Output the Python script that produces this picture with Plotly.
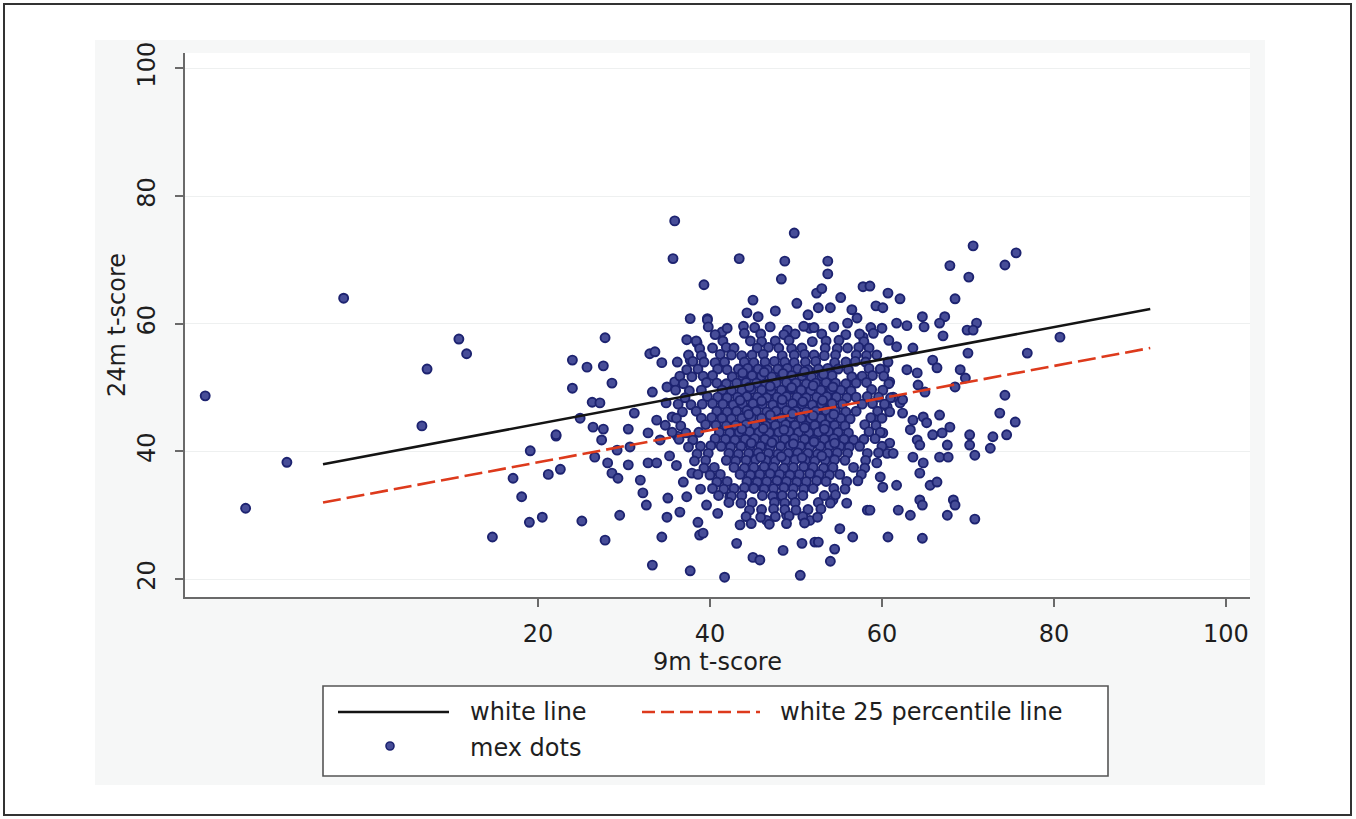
import plotly.graph_objects as go

# ---------------- data ----------------
x_ticks = [20, 40, 60, 80, 100]
y_ticks = [20, 40, 60, 80, 100]

# fitted lines
line_x = [-5.0, 91.2]
white_line_y = [38.0, 62.3]
white_p25_y = [32.0, 56.2]

# scattered points (9m t-score, 24m t-score)
outlier_points = [
    (-18.7, 48.7), (-14.0, 31.1), (-9.2, 38.3), (-2.6, 64.0), (7.1, 52.9), (6.5, 44.0),
    (10.8, 57.6), (11.7, 55.3), (14.7, 26.6), (17.1, 35.8), (18.1, 32.9), (19.0, 28.9),
    (20.5, 29.7), (19.1, 40.1), (21.2, 36.4), (22.1, 42.4),
]

left_points = [
    (35.9, 76.1), (35.7, 70.2), (39.3, 66.1), (27.8, 57.8), (24.0, 54.3), (25.7, 53.2),
    (27.6, 53.4), (28.6, 50.7), (24.0, 49.9), (26.3, 47.7), (27.2, 47.6), (24.9, 45.2),
    (22.1, 42.6), (26.4, 43.8), (27.6, 43.5), (30.5, 43.5), (31.2, 46.0), (33.3, 49.3),
    (33.0, 55.3), (33.6, 55.6), (34.4, 53.9), (35.0, 50.1), (35.9, 50.9), (37.7, 60.8),
    (39.7, 60.8), (37.3, 57.5), (38.5, 57.0), (37.7, 54.3), (27.4, 41.8), (29.2, 40.2),
    (26.6, 39.1), (30.7, 40.7), (28.1, 38.2), (28.6, 36.6), (29.3, 35.8), (30.5, 37.9),
    (31.9, 35.5), (32.8, 38.2), (22.6, 37.2), (25.1, 29.1), (29.5, 30.0), (27.8, 26.1),
    (32.2, 33.5), (32.6, 31.6), (35.1, 32.7), (35.0, 29.7), (36.5, 30.5), (34.4, 26.6),
    (33.3, 22.2), (37.7, 21.3), (38.8, 26.9), (38.6, 28.9), (37.3, 32.9), (37.9, 36.6),
    (36.9, 35.2), (33.8, 38.2), (34.2, 41.8), (32.8, 42.9), (33.8, 44.9), (35.6, 45.4),
    (34.9, 47.6), (36.2, 42.4), (35.3, 39.3), (36.1, 37.8), (38.9, 34.1), (39.6, 31.6),
]

middle_points = [
    (49.8, 74.2), (43.4, 70.2), (48.7, 69.8), (53.7, 69.8), (48.3, 67.0), (53.7, 67.8),
    (45.0, 63.7), (52.4, 64.8), (53.0, 65.5), (57.8, 65.8), (58.6, 65.9), (44.3, 61.7),
    (45.6, 61.1), (51.4, 61.4), (52.6, 62.5), (54.0, 62.5), (56.5, 62.2), (57.1, 60.9),
    (56.0, 60.1), (39.7, 60.6), (41.4, 58.7), (42.0, 59.3), (47.0, 59.5), (49.0, 59.0),
    (51.6, 59.3), (57.8, 57.9), (41.7, 20.3), (50.5, 20.6), (45.0, 23.4), (45.8, 23.0),
    (43.1, 25.6), (48.5, 24.5), (50.7, 25.6), (52.2, 25.8), (52.6, 25.8), (54.5, 24.7),
    (54.0, 22.8), (56.6, 26.6), (58.3, 30.8), (55.9, 31.9), (39.2, 27.2), (40.9, 30.3),
    (43.5, 28.5), (46.6, 29.2), (48.9, 30.0), (51.6, 29.2), (47.8, 32.9), (42.3, 32.9),
    (54.3, 32.4), (55.2, 64.1), (50.1, 63.2), (47.6, 62.0), (59.3, 62.8), (55.1, 27.9),
]

right_points = [
    (70.6, 72.2), (75.6, 71.1), (74.3, 69.2), (67.9, 69.1), (70.1, 67.3), (68.5, 63.9),
    (60.7, 64.8), (62.1, 63.9), (60.1, 62.5), (64.7, 61.1), (67.3, 61.1), (66.7, 60.1),
    (61.7, 60.1), (62.9, 59.7), (64.9, 59.5), (71.0, 60.1), (69.9, 59.0), (70.6, 59.0),
    (60.0, 59.3), (67.1, 58.1), (80.7, 57.9), (76.9, 55.4), (70.0, 55.4), (61.7, 56.4),
    (63.6, 56.2), (65.9, 54.3), (66.4, 53.1), (69.1, 52.8), (69.7, 51.5), (68.5, 50.1),
    (62.9, 52.8), (64.1, 52.3), (60.3, 52.8), (60.9, 50.9), (65.0, 49.3), (64.2, 50.4),
    (74.3, 48.8), (73.7, 46.0), (75.5, 44.6), (74.5, 42.6), (72.9, 42.3), (72.6, 40.5),
    (70.2, 42.6), (70.2, 41.0), (70.8, 39.4), (67.9, 43.8), (66.7, 45.7), (65.9, 42.6),
    (67.0, 42.9), (67.6, 41.0), (66.7, 39.1), (67.7, 39.1), (64.8, 45.4), (65.2, 44.5),
    (63.6, 44.9), (63.3, 43.4), (64.1, 41.8), (64.4, 41.0), (63.6, 39.1), (64.8, 38.2),
    (64.4, 36.6), (65.6, 34.7), (66.4, 35.2), (61.7, 34.7), (64.4, 32.4), (64.7, 31.6),
    (68.3, 32.4), (68.5, 31.6), (61.9, 30.8), (63.3, 30.0), (67.6, 30.0), (70.8, 29.4),
    (60.7, 26.6), (64.7, 26.4), (58.6, 30.8), (60.1, 34.4), (59.8, 36.0), (59.4, 38.2),
    (60.6, 39.7), (61.3, 39.7), (60.9, 41.3), (60.1, 42.9), (59.4, 45.4), (60.6, 47.0),
    (62.1, 47.6), (62.4, 46.0), (61.3, 48.5), (62.4, 48.1),
]

core_points = [
    (39.8, 59.5), (43.9, 59.6), (45.2, 59.4), (50.9, 59.6),
    (52.1, 59.4), (54.4, 59.5), (58.7, 59.4),
    (40.6, 58.3), (44.0, 58.5), (45.9, 58.4), (48.6, 58.3),
    (49.9, 58.4), (53.0, 58.4), (55.8, 58.3), (57.4, 58.4), (59.0, 58.5),
    (38.4, 57.3), (41.5, 57.3), (44.7, 57.3), (46.0, 57.2),
    (47.6, 57.3), (49.2, 57.4), (51.9, 57.2), (53.5, 57.3), (55.0, 57.4),
    (57.9, 57.2), (60.8, 57.4),
    (38.8, 56.1), (40.3, 56.2), (41.9, 56.3), (42.8, 56.2),
    (45.5, 56.2), (46.8, 56.3), (48.0, 56.2), (49.5, 56.1), (50.7, 56.2),
    (53.4, 56.2), (54.8, 56.1), (56.0, 56.2), (57.3, 56.3), (58.5, 56.2),
    (37.5, 55.1), (39.0, 55.0), (41.2, 55.2), (42.5, 55.1), (43.7, 55.0),
    (44.9, 55.1), (46.2, 55.2), (48.4, 55.0), (49.8, 55.1), (51.0, 55.2),
    (52.1, 55.1), (53.3, 55.0), (54.6, 55.1), (57.0, 55.1), (58.2, 55.0),
    (59.4, 55.1),
    (36.2, 54.0), (38.0, 54.1), (39.3, 54.0), (40.6, 53.9), (41.7, 54.0),
    (44.0, 54.0), (45.1, 53.9), (46.4, 54.0), (47.5, 54.1), (48.7, 54.0), (49.8, 53.9),
    (51.1, 54.0), (52.3, 54.1), (54.5, 53.9), (55.8, 54.0), (56.9, 54.1),
    (58.1, 54.0), (60.7, 54.0),
    (37.3, 52.8), (38.6, 52.9), (40.9, 52.9), (42.0, 52.8),
    (43.3, 52.9), (44.4, 53.0), (45.6, 52.9), (46.7, 52.8), (47.9, 52.9), (49.0, 53.0),
    (50.2, 52.9), (51.4, 52.8), (52.6, 52.9), (53.7, 53.0), (54.9, 52.9), (56.1, 52.8),
    (58.5, 53.0), (59.8, 52.9),
    (36.5, 51.8), (37.9, 51.7), (39.2, 51.8), (40.3, 51.9), (42.6, 51.7),
    (43.8, 51.8), (44.9, 51.9), (46.0, 51.8), (47.2, 51.7), (48.4, 51.8), (49.5, 51.9),
    (50.7, 51.8), (51.8, 51.7), (53.0, 51.8), (54.2, 51.9), (56.5, 51.7),
    (57.7, 51.8), (58.9, 51.9), (60.2, 51.8),
    (36.9, 50.6), (39.6, 50.8), (40.8, 50.7), (41.9, 50.6),
    (43.1, 50.7), (44.2, 50.8), (45.4, 50.7), (46.5, 50.6), (47.7, 50.7), (48.9, 50.8),
    (50.0, 50.7), (51.2, 50.6), (52.3, 50.7), (53.5, 50.8), (54.6, 50.7), (55.8, 50.6),
    (57.0, 50.7), (58.2, 50.8), (60.8, 50.6),
    (36.0, 49.6), (37.6, 49.5), (39.0, 49.6), (41.4, 49.6), (42.5, 49.5),
    (43.7, 49.6), (44.8, 49.7), (46.0, 49.6), (47.1, 49.5), (48.3, 49.6), (49.4, 49.7),
    (50.6, 49.6), (51.7, 49.5), (52.9, 49.6), (54.1, 49.7), (55.2, 49.6), (56.4, 49.5),
    (58.8, 49.7), (60.1, 49.6),
    (37.1, 48.4), (39.7, 48.6), (40.9, 48.5), (42.0, 48.4),
    (43.2, 48.5), (44.3, 48.6), (45.5, 48.5), (46.6, 48.4), (47.8, 48.5), (48.9, 48.6),
    (50.1, 48.5), (51.2, 48.4), (52.4, 48.5), (53.6, 48.6), (54.7, 48.5), (55.9, 48.4),
    (57.0, 48.5), (58.3, 48.6), (59.6, 48.5), (61.0, 48.4),
    (36.3, 47.4), (37.8, 47.3), (39.1, 47.4), (40.3, 47.5), (41.5, 47.4), (42.7, 47.3),
    (43.8, 47.4), (45.0, 47.5), (46.1, 47.4), (47.3, 47.3), (48.4, 47.4), (49.6, 47.5),
    (50.7, 47.4), (51.9, 47.3), (53.0, 47.4), (54.2, 47.5), (55.4, 47.4),
    (57.7, 47.4), (58.9, 47.5), (60.3, 47.4),
    (36.8, 46.2), (38.4, 46.3), (40.8, 46.3), (42.0, 46.2),
    (43.1, 46.3), (44.3, 46.4), (45.4, 46.3), (46.6, 46.2), (47.7, 46.3), (48.9, 46.4),
    (50.0, 46.3), (51.2, 46.2), (52.3, 46.3), (53.5, 46.4), (54.6, 46.3), (55.8, 46.2),
    (57.0, 46.3), (59.5, 46.3), (60.9, 46.2),
    (36.1, 45.2), (39.0, 45.2), (40.2, 45.3), (41.4, 45.2), (42.5, 45.1),
    (43.7, 45.2), (44.8, 45.3), (46.0, 45.2), (47.1, 45.1), (48.3, 45.2), (49.4, 45.3),
    (50.6, 45.2), (51.7, 45.1), (52.9, 45.2), (54.0, 45.3), (55.2, 45.2), (56.3, 45.1),
    (58.7, 45.3), (60.0, 45.2),
    (34.8, 44.1), (36.6, 44.0), (39.5, 44.2), (40.7, 44.1), (41.9, 44.0),
    (43.0, 44.1), (44.2, 44.2), (45.3, 44.1), (46.5, 44.0), (47.6, 44.1), (48.8, 44.2),
    (49.9, 44.1), (51.1, 44.0), (52.2, 44.1), (53.4, 44.2), (54.5, 44.1), (55.7, 44.0),
    (58.0, 44.2), (59.3, 44.1),
    (35.6, 43.0), (37.2, 42.9), (38.7, 43.0), (41.1, 43.0), (42.3, 42.9),
    (43.4, 43.0), (44.6, 43.1), (45.7, 43.0), (46.9, 42.9), (48.0, 43.0), (49.2, 43.1),
    (50.3, 43.0), (51.5, 42.9), (52.6, 43.0), (53.8, 43.1), (54.9, 43.0), (56.1, 42.9),
    (58.5, 43.1), (59.8, 43.0),
    (36.4, 41.9), (38.0, 41.8), (40.6, 42.0), (41.8, 41.9), (42.9, 41.8),
    (44.1, 41.9), (45.2, 42.0), (46.4, 41.9), (47.5, 41.8), (48.7, 41.9), (49.8, 42.0),
    (51.0, 41.9), (52.1, 41.8), (53.3, 41.9), (54.4, 42.0), (55.6, 41.9), (56.7, 41.8),
    (57.9, 41.9), (59.2, 42.0),
    (37.5, 40.7), (38.9, 40.8), (40.1, 40.9), (41.3, 40.8), (42.4, 40.7),
    (43.6, 40.8), (44.7, 40.9), (45.9, 40.8), (47.0, 40.7), (48.2, 40.8), (49.3, 40.9),
    (50.5, 40.8), (51.6, 40.7), (52.8, 40.8), (53.9, 40.9), (55.1, 40.8), (56.2, 40.7),
    (57.4, 40.8), (60.0, 40.8),
    (38.5, 39.6), (39.8, 39.7), (42.2, 39.7), (43.3, 39.6),
    (44.5, 39.7), (45.6, 39.8), (46.8, 39.7), (47.9, 39.6), (49.1, 39.7), (50.2, 39.8),
    (51.4, 39.7), (52.5, 39.6), (53.7, 39.7), (54.8, 39.8), (56.0, 39.7),
    (58.3, 39.7), (59.6, 39.8),
    (38.2, 38.5), (39.5, 38.6), (41.9, 38.6), (43.0, 38.5),
    (44.2, 38.6), (45.3, 38.7), (46.5, 38.6), (47.6, 38.5), (48.8, 38.6), (49.9, 38.7),
    (51.1, 38.6), (52.2, 38.5), (53.4, 38.6), (54.5, 38.7), (55.7, 38.6),
    (58.1, 38.6),
    (39.3, 37.4), (40.5, 37.5), (42.8, 37.5), (44.0, 37.4),
    (45.1, 37.5), (46.3, 37.6), (47.4, 37.5), (48.6, 37.4), (49.7, 37.5), (50.9, 37.6),
    (52.0, 37.5), (53.2, 37.4), (54.3, 37.5), (56.7, 37.5), (58.0, 37.4),
    (38.6, 36.4), (40.0, 36.3), (41.2, 36.4), (43.5, 36.4), (44.7, 36.3),
    (45.8, 36.4), (47.0, 36.5), (48.1, 36.4), (49.3, 36.3), (50.4, 36.4), (51.6, 36.5),
    (52.7, 36.4), (53.9, 36.3), (55.1, 36.4), (57.6, 36.4),
    (40.8, 35.2), (42.0, 35.3), (44.3, 35.3), (45.5, 35.2),
    (46.6, 35.3), (47.8, 35.4), (48.9, 35.3), (50.1, 35.2), (51.2, 35.3), (52.4, 35.4),
    (53.5, 35.3), (55.9, 35.3), (57.2, 35.4),
    (40.3, 34.2), (41.6, 34.1), (42.8, 34.2), (44.0, 34.3), (45.1, 34.2), (46.3, 34.1),
    (47.4, 34.2), (48.6, 34.3), (49.7, 34.2), (50.9, 34.1), (52.0, 34.2),
    (54.4, 34.2), (55.7, 34.1),
    (41.0, 33.1), (42.5, 33.0), (43.7, 33.1), (46.1, 33.1), (47.3, 33.0),
    (48.4, 33.1), (49.6, 33.2), (50.8, 33.1), (53.3, 33.1), (54.6, 33.2),
    (42.2, 32.0), (43.6, 31.9), (44.9, 32.0), (47.5, 32.0), (48.7, 31.9),
    (49.9, 32.0), (52.6, 32.0), (54.0, 31.9),
    (44.6, 30.8), (46.0, 30.9), (47.4, 31.0), (48.7, 30.9), (50.0, 30.8),
    (51.4, 30.9), (52.9, 31.0),
    (44.2, 29.8), (45.9, 29.7), (47.6, 29.8), (49.2, 29.9), (50.8, 29.8), (52.5, 29.7),
    (44.8, 28.7), (46.9, 28.6), (48.9, 28.7), (51.0, 28.8),
]

center_points = [
    (43.8, 52.3), (46.3, 52.4), (48.5, 52.2), (51.0, 52.5), (53.2, 52.1),
    (44.6, 50.1), (47.0, 50.2), (49.5, 50.0), (52.0, 50.3), (54.3, 50.1),
    (43.5, 48.0), (46.0, 47.9), (48.4, 48.1), (50.8, 47.8), (53.1, 48.0),
    (44.5, 45.8), (47.0, 45.7), (49.6, 45.9), (52.0, 45.6), (54.4, 45.8),
    (43.7, 43.5), (46.2, 43.6), (48.6, 43.4), (51.0, 43.7), (53.3, 43.5),
    (44.8, 41.3), (47.2, 41.4), (49.7, 41.2), (52.1, 41.5), (54.5, 41.3),
    (45.9, 39.1), (48.3, 39.2), (50.7, 39.0), (53.0, 39.3),
]

mex_points = outlier_points + left_points + middle_points + right_points + core_points + center_points
mex_x = [p[0] for p in mex_points]
mex_y = [p[1] for p in mex_points]

# ---------------- geometry helpers (pixel -> paper) ----------------
W, H = 1356, 819
L, R, T, B = 185, 106, 53, 222
PW, PH = W - L - R, H - T - B


def px(x):
    return (x - L) / PW


def py(y):
    return (H - B - y) / PH


FONT = "DejaVu Sans"
TXT = "#1e1e1e"
AX = "#6a6a6a"
DOT_FILL = "#474d98"
DOT_EDGE = "#1d2370"

fig = go.Figure()

fig.add_trace(go.Scatter(
    x=mex_x, y=mex_y, mode="markers", name="mex dots",
    marker=dict(symbol="circle", size=9, color=DOT_FILL,
                line=dict(color=DOT_EDGE, width=1.9)),
    showlegend=False,
))
fig.add_trace(go.Scatter(
    x=line_x, y=white_line_y, mode="lines", name="white line",
    line=dict(color="#141414", width=2.6), showlegend=False,
))
fig.add_trace(go.Scatter(
    x=line_x, y=white_p25_y, mode="lines", name="white 25 percentile line",
    line=dict(color="#dd3a1c", width=2.6, dash="18px,6px"), showlegend=False,
))

shapes = [
    # outer frame
    dict(type="rect", xref="paper", yref="paper", x0=px(4), x1=px(1351), y0=py(815), y1=py(4),
         line=dict(color="#333333", width=2), fillcolor="rgba(0,0,0,0)", layer="below"),
    # graph region
    dict(type="rect", xref="paper", yref="paper", x0=px(95), x1=px(1265), y0=py(785), y1=py(40),
         line=dict(width=0), fillcolor="#f6f7f7", layer="below"),
    # plot region
    dict(type="rect", xref="paper", yref="paper", x0=0, x1=1, y0=0, y1=1,
         line=dict(width=0), fillcolor="#ffffff", layer="below"),
    # legend box
    dict(type="rect", xref="paper", yref="paper", x0=px(323), x1=px(1108), y0=py(776), y1=py(686),
         line=dict(color="#555555", width=1.6), fillcolor="#ffffff"),
    # legend samples
    dict(type="line", xref="paper", yref="paper", x0=px(338), x1=px(449), y0=py(712), y1=py(712),
         line=dict(color="#141414", width=2.6)),
    dict(type="line", xref="paper", yref="paper", x0=px(642), x1=px(760), y0=py(712), y1=py(712),
         line=dict(color="#dd3a1c", width=2.6, dash="13px,6px")),
    dict(type="circle", xref="paper", yref="paper", x0=px(386), x1=px(394), y0=py(750), y1=py(742),
         line=dict(color=DOT_EDGE, width=1.6), fillcolor=DOT_FILL),
]

annotations = [
    dict(text="white line", x=px(468), y=py(712), xref="paper", yref="paper",
         xanchor="left", yanchor="middle", showarrow=False, font=dict(family=FONT, size=24, color=TXT)),
    dict(text="white 25 percentile line", x=px(778), y=py(712), xref="paper", yref="paper",
         xanchor="left", yanchor="middle", showarrow=False, font=dict(family=FONT, size=24, color=TXT)),
    dict(text="mex dots", x=px(468), y=py(748), xref="paper", yref="paper",
         xanchor="left", yanchor="middle", showarrow=False, font=dict(family=FONT, size=24, color=TXT)),
]

fig.update_layout(
    width=W, height=H, autosize=False,
    margin=dict(l=L, r=R, t=T, b=B, pad=0),
    paper_bgcolor="#ffffff", plot_bgcolor="#ffffff",
    font=dict(family=FONT, color=TXT),
    shapes=shapes, annotations=annotations,
    showlegend=False,
    xaxis=dict(
        range=[-21.05, 102.8], tickvals=x_ticks, ticktext=[str(v) for v in x_ticks],
        showline=True, linecolor=AX, linewidth=2, mirror=False,
        ticks="outside", ticklen=8, tickwidth=2, tickcolor=AX,
        showgrid=False, zeroline=False,
        tickfont=dict(family=FONT, size=24, color=TXT),
        ticklabelstandoff=6,
        title=dict(text="9m t-score", font=dict(family=FONT, size=24, color=TXT), standoff=0),
    ),
    yaxis=dict(
        range=[17.2, 102.4], tickvals=y_ticks, ticktext=[str(v) for v in y_ticks],
        showline=True, linecolor=AX, linewidth=2, mirror=False,
        ticks="outside", ticklen=8, tickwidth=2, tickcolor=AX,
        showgrid=True, gridcolor="#eef0f0", gridwidth=1, zeroline=False,
        tickangle=-90,
        tickfont=dict(family=FONT, size=24, color=TXT),
        ticklabelstandoff=10,
        title=dict(text="24m t-score", font=dict(family=FONT, size=24, color=TXT), standoff=1),
    ),
)

fig.write_html("out.html")
